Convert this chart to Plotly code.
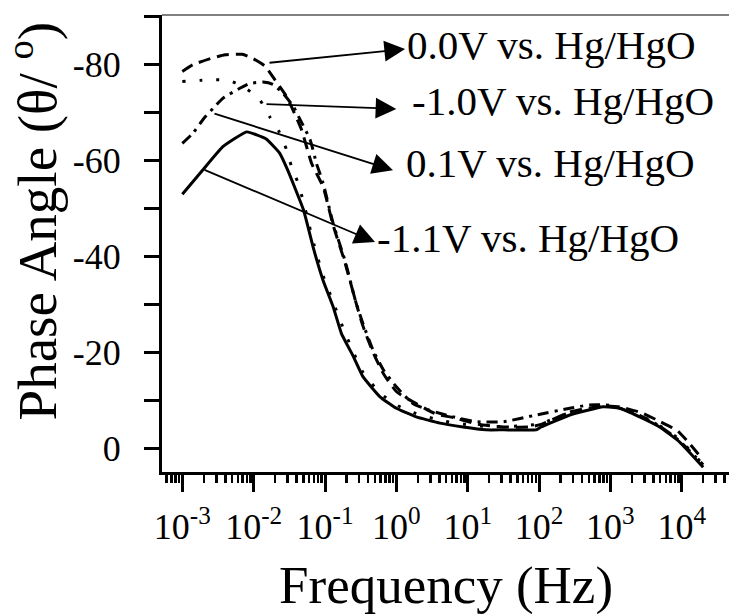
import plotly.graph_objects as go

# ---------------- data ----------------
freq_m11 = [0.001, 0.002, 0.0037, 0.008, 0.015, 0.023, 0.03, 0.05, 0.07, 0.094, 0.13, 0.17,
            0.25, 0.34, 0.59, 1.0, 1.9, 4.1, 8.6, 18, 32, 91, 107, 270, 790, 1350, 2570,
            4900, 9300, 20000]
phase_m11 = [-53.0, -58.3, -62.9, -66.0, -64.5, -61.6, -58.0, -49.7, -41.3, -35.0, -29.5, -23.9,
             -19.1, -14.9, -10.7, -8.3, -6.5, -5.2, -4.4, -3.8, -3.8, -3.8, -4.4, -6.9, -8.6, -8.3,
             -6.5, -4.4, -1.3, 4.0]

freq_p01 = [0.001, 0.0014, 0.002, 0.0027, 0.0037, 0.0064, 0.0088, 0.0135, 0.0187, 0.026,
            0.036, 0.045, 0.062, 0.076, 0.094, 0.13, 0.19, 0.27, 0.34, 0.47, 0.66, 1.0, 1.7,
            2.9, 6.3, 13, 32, 91, 270, 510, 1000, 2570, 4900, 9300, 20000]
phase_p01 = [-63.6, -65.7, -68.8, -70.9, -73.0, -75.1, -76.1, -76.4, -75.9, -74.0,
             -71.3, -68.5, -64.3, -59.4, -55.3, -46.9, -39.2, -30.5, -26.0, -20.5, -16.3, -12.8, -9.3,
             -7.9, -6.5, -5.5, -5.5, -6.9, -8.3, -9.0, -8.9, -6.8, -4.6, -1.5, 3.5]

freq_p00 = [0.001, 0.0014, 0.0026, 0.004, 0.0069, 0.0095, 0.0145, 0.02, 0.028, 0.034, 0.047,
            0.065, 0.094, 0.13, 0.19, 0.27, 0.34, 0.47, 0.66, 1.0, 1.55, 3.6, 6.6, 13.5, 32,
            74, 110, 270, 790, 1350, 2800, 5000, 8900, 20000]
phase_p00 = [-78.6, -80.0, -81.4, -82.1, -82.2, -81.4, -79.7, -76.8, -73.7, -71.2, -66.4,
             -59.4, -54.5, -46.5, -38.8, -30.5, -25.5, -20.0, -15.5, -11.8, -10.0, -7.1, -6.3, -5.0, -4.4,
             -4.4, -5.0, -7.5, -8.8, -8.6, -7.3, -5.5, -3.5, 2.5]

freq_m10 = [0.001, 0.0026, 0.0044, 0.0076, 0.0123, 0.017, 0.023, 0.029, 0.034, 0.042, 0.049,
            0.07, 0.094, 0.13, 0.18, 0.25, 0.34, 0.59, 1.0, 1.9, 4.1, 8.6, 18, 50, 100, 270,
            790, 1350, 2570, 4900, 9300, 20000]
phase_m10 = [-76.5, -76.9, -76.8, -75.2, -72.6, -69.0, -65.9, -62.2, -58.7, -55.3, -51.8,
             -42.5, -36.0, -30.5, -25.0, -20.0, -15.8, -11.5, -9.0, -7.2, -5.8, -5.0, -4.5, -4.6, -5.0, -7.4,
             -8.8, -8.5, -6.8, -4.7, -1.8, 3.5]

labels = ["0.0V vs. Hg/HgO", "-1.0V vs. Hg/HgO", "0.1V vs. Hg/HgO", "-1.1V vs. Hg/HgO"]

x_tick_vals = [1e-3, 1e-2, 1e-1, 1e0, 1e1, 1e2, 1e3, 1e4]
x_tick_text = ["10<sup>-3</sup>", "10<sup>-2</sup>", "10<sup>-1</sup>", "10<sup>0</sup>",
               "10<sup>1</sup>", "10<sup>2</sup>", "10<sup>3</sup>", "10<sup>4</sup>"]
y_tick_vals = [-90, -80, -70, -60, -50, -40, -30, -20, -10, 0]
y_tick_text = ["", "-80", "", "-60", "", "-40", "", "-20", "", "0"]

# ---------------- figure ----------------
FONT = "Liberation Serif, Times New Roman, serif"

fig = go.Figure()
series = [
    (freq_p00, phase_p00, "12px,7px", labels[0], 0.5),
    (freq_m10, phase_m10, "3px,14px", labels[1], 0.5),
    (freq_p01, phase_p01, "11px,6px,3px,6px", labels[2], 0.5),
    (freq_m11, phase_m11, "solid", labels[3], 0.35),
]
for fx, py, dash, name, sm in series:
    fig.add_trace(go.Scatter(x=fx, y=py, mode="lines", name=name, showlegend=False,
                             line=dict(color="black", width=3, dash=dash,
                                       shape="spline", smoothing=sm)))

minor_vals = [k * 10.0 ** e for e in range(-4, 5) for k in range(2, 10)
              if 5.2e-4 <= k * 10.0 ** e <= 4.6e4]

fig.update_xaxes(type="log", range=[-3.285, 4.663], showline=True, linecolor="black",
                 linewidth=3, ticks="outside", ticklen=17, tickwidth=3, tickcolor="black",
                 tickmode="array", tickvals=x_tick_vals, ticktext=x_tick_text,
                 tickfont=dict(family=FONT, size=36, color="black"),
                 ticklabelstandoff=4,
                 minor=dict(tickmode="array", tickvals=minor_vals, ticks="outside",
                            ticklen=8, tickwidth=2.5, tickcolor="black", showgrid=False),
                 showgrid=False, zeroline=False)
fig.update_yaxes(range=[5, -90.4], showline=True, linecolor="black", linewidth=3,
                 ticks="outside", ticklen=15, tickwidth=3, tickcolor="black",
                 tickmode="array", tickvals=y_tick_vals, ticktext=y_tick_text,
                 tickfont=dict(family=FONT, size=36, color="black"),
                 ticklabelstandoff=16,
                 showgrid=False, zeroline=False)

annotations = []
# arrows: (tip_logf, tip_phase, tail_logf, tail_phase)
arrows = [(0.122, -83.3, -1.799, -80.4),
          (0.0, -70.8, -1.841, -71.8),
          (-0.047, -58.0, -2.570, -69.9),
          (-0.299, -43.0, -2.710, -58.2)]
for tx, ty, sx, sy in arrows:
    annotations.append(dict(x=tx, y=ty, xref="x", yref="y", ax=sx, ay=sy,
                            axref="x", ayref="y", text="", showarrow=True,
                            arrowhead=2, arrowsize=2.3, arrowwidth=1.8, arrowcolor="black",
                            standoff=0, startstandoff=0))
# label positions (paper coords)
label_pos = [(0.429, 0.934), (0.437, 0.812), (0.427, 0.676), (0.376, 0.512)]
for (lx, ly), txt in zip(label_pos, labels):
    annotations.append(dict(x=lx, y=ly, xref="paper", yref="paper", text=txt,
                            showarrow=False, xanchor="left", yanchor="middle",
                            font=dict(family=FONT, size=41, color="black")))
# axis titles
annotations.append(dict(x=0.5, y=-0.248, xref="paper", yref="paper", text="Frequency (Hz)",
                        showarrow=False, xanchor="center", yanchor="middle",
                        font=dict(family=FONT, size=53, color="black")))
annotations.append(dict(x=-0.227, y=0.549, xref="paper", yref="paper",
                        text="Phase Angle (θ/ <sup>o</sup>)", textangle=-90,
                        showarrow=False, xanchor="center", yanchor="middle",
                        font=dict(family=FONT, size=55, color="black")))

fig.update_layout(width=729, height=614, margin=dict(l=162, r=0, t=15, b=142),
                  paper_bgcolor="white", plot_bgcolor="white",
                  annotations=annotations,
                  shapes=[dict(type="line", xref="paper", yref="paper", x0=0, x1=1, y0=1, y1=1,
                               line=dict(color="#808080", width=2))])

fig.write_html("out.html",
               config={"displayModeBar": False, "staticPlot": True},
               post_script="document.body.style.margin='0px';"
                           "document.body.style.overflow='hidden';")
